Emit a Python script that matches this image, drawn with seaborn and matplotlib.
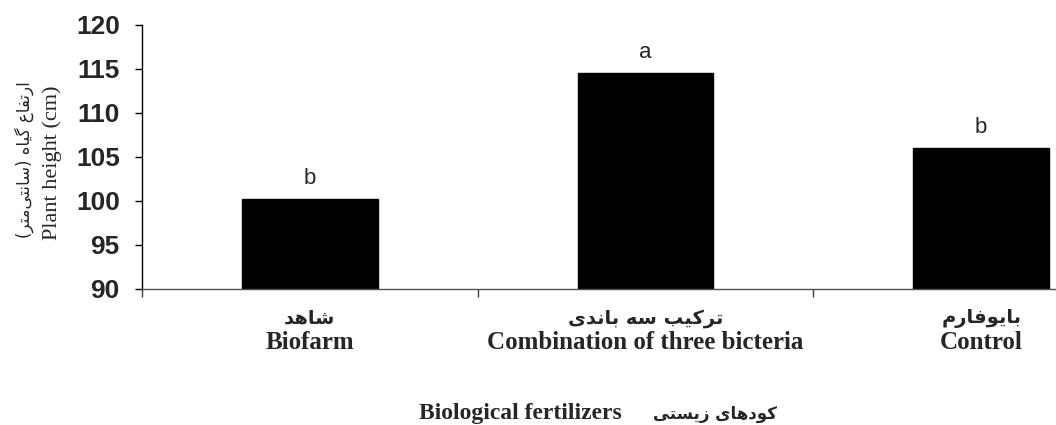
import matplotlib
matplotlib.use("Agg")
import matplotlib.pyplot as plt
import seaborn as sns
import pandas as pd

# ---------------- data ----------------
categories_fa = ["شاهد", "ترکیب سه باندی", "بایوفارم"]
categories_en = ["Biofarm", "Combination of three bicteria", "Control"]
heights = [100.2, 114.5, 106.0]
letters = ["b", "a", "b"]
yticks = [90, 95, 100, 105, 110, 115, 120]
ylabel_en = "Plant height (cm)"
ylabel_fa = "ارتفاع گیاه (سانتی\u200cمتر)"
xlabel_en = "Biological fertilizers"
xlabel_fa = "کودهای زیستی"

# ------------- minimal Persian shaping (presentation forms, visual order) -------------
FORMS = {
    "\u0627": ("\uFE8D", "\uFE8E", None, None),
    "\u0628": ("\uFE8F", "\uFE90", "\uFE91", "\uFE92"),
    "\u062A": ("\uFE95", "\uFE96", "\uFE97", "\uFE98"),
    "\u062F": ("\uFEA9", "\uFEAA", None, None),
    "\u0631": ("\uFEAD", "\uFEAE", None, None),
    "\u0632": ("\uFEAF", "\uFEB0", None, None),
    "\u0633": ("\uFEB1", "\uFEB2", "\uFEB3", "\uFEB4"),
    "\u0634": ("\uFEB5", "\uFEB6", "\uFEB7", "\uFEB8"),
    "\u0639": ("\uFEC9", "\uFECA", "\uFECB", "\uFECC"),
    "\u0641": ("\uFED1", "\uFED2", "\uFED3", "\uFED4"),
    "\u0645": ("\uFEE1", "\uFEE2", "\uFEE3", "\uFEE4"),
    "\u0646": ("\uFEE5", "\uFEE6", "\uFEE7", "\uFEE8"),
    "\u0647": ("\uFEE9", "\uFEEA", "\uFEEB", "\uFEEC"),
    "\u0648": ("\uFEED", "\uFEEE", None, None),
    "\u06A9": ("\uFB8E", "\uFB8F", "\uFB90", "\uFB91"),
    "\u06AF": ("\uFB92", "\uFB93", "\uFB94", "\uFB95"),
    "\u06CC": ("\uFBFC", "\uFBFD", "\uFBFE", "\uFBFF"),
}


def shape(text):
    out = []
    for i, c in enumerate(text):
        if c not in FORMS:
            out.append("" if c == "\u200c" else c)
            continue
        prev = text[i - 1] if i > 0 else None
        nxt = text[i + 1] if i + 1 < len(text) else None
        join_prev = prev in FORMS and FORMS[prev][2] is not None
        join_next = FORMS[c][2] is not None and nxt in FORMS
        iso, fin, ini, med = FORMS[c]
        if join_prev and join_next:
            out.append(med)
        elif join_prev:
            out.append(fin)
        elif join_next:
            out.append(ini)
        else:
            out.append(iso)
    s = "".join(out)[::-1]
    return s.translate(str.maketrans("()", ")("))


# ---------------- figure ----------------
sns.set_theme(style="white")
plt.rcParams["font.family"] = ["Liberation Sans", "DejaVu Sans"]

W, H = 1056, 425
PX = 72 / 100  # points per pixel
fig = plt.figure(figsize=(W / 100, H / 100), dpi=100)
ax = fig.add_axes([142 / W, (H - 289) / H, 1007 / W, 264 / H])

df = pd.DataFrame({"cat": categories_en, "height": heights})
sns.barplot(data=df, x="cat", y="height", color="black", width=0.405,
            saturation=1, ax=ax, edgecolor="black")

ax.set_xlim(-0.5, 2.5)
ax.set_ylim(90, 120)
ax.set_yticks(yticks)
ax.set_yticklabels([str(t) for t in yticks], fontsize=19, fontweight="bold",
                   family=["Liberation Sans"])
ax.tick_params(axis="y", direction="out", length=5, width=1, pad=11, color="black", left=True)

ax.set_xticks(range(len(categories_en)))
ax.set_xticklabels(categories_en, fontsize=18, fontweight="bold",
                   family=["Liberation Serif"])
ax.set_xticks([-0.5, 0.5, 1.5, 2.5], minor=True)
ax.tick_params(axis="x", which="major", length=0, pad=42 * PX)
ax.tick_params(axis="x", which="minor", direction="out", length=6, width=1,
               color="#404040", bottom=True)

for i, fa in enumerate(categories_fa):
    ax.annotate(shape(fa), xy=(i, 0), xycoords=("data", "axes fraction"),
                xytext=(0, -29 * PX), textcoords="offset points",
                ha="center", va="center", fontsize=14, fontweight="bold",
                family=["DejaVu Sans"])

for s in ["top", "right"]:
    ax.spines[s].set_visible(False)
ax.spines["left"].set_color("black")
ax.spines["left"].set_linewidth(1)
ax.spines["bottom"].set_color("#505050")
ax.spines["bottom"].set_linewidth(1)

ax.set_xlabel("")
ax.set_ylabel("")

for i, (h, lt) in enumerate(zip(heights, letters)):
    ax.annotate(lt, (i, h), xytext=(0, 11), textcoords="offset points",
                ha="center", va="baseline", fontsize=16, family=["Liberation Sans"])

# y label (two lines, rotated)
fig.text(52 / W, 1 - 163 / H, ylabel_en, rotation=90, ha="center", va="center",
         fontsize=16, family=["Liberation Serif"])
fig.text(24 / W, 1 - 160 / H, shape(ylabel_fa), rotation=90, ha="center", va="center",
         fontsize=12, family=["DejaVu Sans"])

# x label
fig.text(622 / W, 1 - 414 / H, xlabel_en, ha="right", va="center",
         fontsize=17, fontweight="bold", family=["Liberation Serif"])
fig.text(653 / W, 1 - 414 / H, shape(xlabel_fa), ha="left", va="center",
         fontsize=12, fontweight="bold", family=["DejaVu Sans"])

fig.savefig("out.png", dpi=100)
